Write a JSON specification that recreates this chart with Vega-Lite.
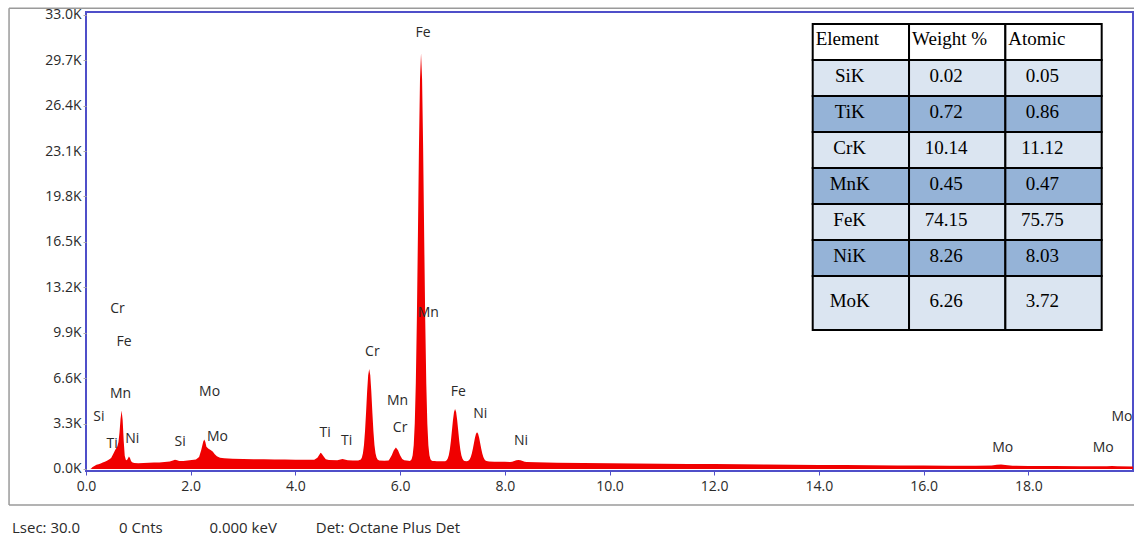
{
  "$schema": "https://vega.github.io/schema/vega-lite/v6.json",
  "width": 1047,
  "height": 459,
  "autosize": {"type": "none"},
  "padding": {"left": 86, "top": 12, "right": 1, "bottom": 67},
  "background": "white",
  "config": {"view": {"stroke": "#4f4fc9", "strokeWidth": 2}, "font": "Open Sans"},
  "title": {
    "text": "Lsec: 30.0\u00a0\u00a0\u00a0\u00a0\u00a0\u00a0\u00a0\u00a0\u00a0\u00a00 Cnts\u00a0\u00a0\u00a0\u00a0\u00a0\u00a0\u00a0\u00a0\u00a0\u00a0\u00a0\u00a00.000 keV\u00a0\u00a0\u00a0\u00a0\u00a0\u00a0\u00a0\u00a0\u00a0\u00a0Det: Octane Plus Det",
    "orient": "bottom", "anchor": "start", "frame": "group", "dx": -74, "offset": 15,
    "fontSize": 15, "fontWeight": "normal", "font": "Open Sans", "color": "#2a2a2a"
  },
  "datasets": {
    "spectrum": [
      {"E":0.08,"c":0},{"E":0.10,"c":40},{"E":0.12,"c":120},{"E":0.16,"c":220},{"E":0.20,"c":300},{"E":0.24,"c":340},{"E":0.28,"c":400},{"E":0.32,"c":470},{"E":0.36,"c":520},{"E":0.40,"c":590},{"E":0.44,"c":680},{"E":0.48,"c":800},{"E":0.52,"c":1080},{"E":0.56,"c":1400},{"E":0.60,"c":1650},{"E":0.62,"c":1950},{"E":0.64,"c":2650},{"E":0.66,"c":3650},{"E":0.68,"c":4240},{"E":0.70,"c":3550},{"E":0.72,"c":2050},{"E":0.74,"c":950},{"E":0.76,"c":660},{"E":0.78,"c":640},{"E":0.80,"c":760},{"E":0.82,"c":900},{"E":0.84,"c":800},{"E":0.86,"c":580},{"E":0.88,"c":480},{"E":0.92,"c":440},{"E":1.00,"c":420},{"E":1.10,"c":430},{"E":1.20,"c":450},{"E":1.30,"c":460},{"E":1.40,"c":470},{"E":1.50,"c":500},{"E":1.60,"c":540},{"E":1.66,"c":610},{"E":1.70,"c":660},{"E":1.74,"c":640},{"E":1.78,"c":580},{"E":1.86,"c":580},{"E":1.94,"c":610},{"E":2.02,"c":650},{"E":2.10,"c":690},{"E":2.16,"c":860},{"E":2.20,"c":1360},{"E":2.24,"c":2000},{"E":2.26,"c":2140},{"E":2.28,"c":1960},{"E":2.30,"c":1610},{"E":2.34,"c":1460},{"E":2.38,"c":1380},{"E":2.42,"c":1260},{"E":2.46,"c":1060},{"E":2.50,"c":920},{"E":2.56,"c":820},{"E":2.64,"c":770},{"E":2.80,"c":740},{"E":3.00,"c":720},{"E":3.20,"c":700},{"E":3.40,"c":710},{"E":3.60,"c":690},{"E":3.80,"c":680},{"E":4.00,"c":670},{"E":4.20,"c":660},{"E":4.36,"c":660},{"E":4.42,"c":810},{"E":4.46,"c":1050},{"E":4.48,"c":1180},{"E":4.50,"c":1130},{"E":4.54,"c":900},{"E":4.58,"c":710},{"E":4.64,"c":650},{"E":4.80,"c":640},{"E":4.86,"c":690},{"E":4.90,"c":730},{"E":4.94,"c":680},{"E":5.00,"c":630},{"E":5.10,"c":620},{"E":5.20,"c":620},{"E":5.25,"c":690},{"E":5.27,"c":825},{"E":5.29,"c":1140},{"E":5.31,"c":1740},{"E":5.33,"c":2750},{"E":5.35,"c":4120},{"E":5.37,"c":5620},{"E":5.39,"c":6810},{"E":5.41,"c":7270},{"E":5.43,"c":6810},{"E":5.45,"c":5620},{"E":5.47,"c":4120},{"E":5.49,"c":2750},{"E":5.51,"c":1740},{"E":5.53,"c":1140},{"E":5.55,"c":825},{"E":5.57,"c":690},{"E":5.60,"c":620},{"E":5.70,"c":600},{"E":5.78,"c":620},{"E":5.80,"c":730},{"E":5.84,"c":990},{"E":5.88,"c":1360},{"E":5.92,"c":1550},{"E":5.96,"c":1360},{"E":6.00,"c":990},{"E":6.04,"c":730},{"E":6.08,"c":630},{"E":6.12,"c":610},{"E":6.16,"c":600},{"E":6.18,"c":580},{"E":6.20,"c":610},{"E":6.22,"c":710},{"E":6.24,"c":1000},{"E":6.26,"c":1730},{"E":6.28,"c":3310},{"E":6.30,"c":6230},{"E":6.32,"c":10850},{"E":6.34,"c":16900},{"E":6.36,"c":23330},{"E":6.38,"c":28300},{"E":6.40,"c":30200},{"E":6.42,"c":28300},{"E":6.44,"c":23330},{"E":6.46,"c":16900},{"E":6.48,"c":10850},{"E":6.50,"c":6230},{"E":6.52,"c":3310},{"E":6.54,"c":1730},{"E":6.56,"c":1000},{"E":6.58,"c":710},{"E":6.60,"c":610},{"E":6.62,"c":580},{"E":6.66,"c":570},{"E":6.70,"c":560},{"E":6.80,"c":550},{"E":6.86,"c":560},{"E":6.87,"c":580},{"E":6.89,"c":634},{"E":6.91,"c":756},{"E":6.93,"c":1001},{"E":6.95,"c":1413},{"E":6.97,"c":2025},{"E":6.99,"c":2790},{"E":7.01,"c":3560},{"E":7.03,"c":4140},{"E":7.05,"c":4360},{"E":7.07,"c":4140},{"E":7.09,"c":3560},{"E":7.11,"c":2790},{"E":7.13,"c":2025},{"E":7.15,"c":1413},{"E":7.17,"c":1001},{"E":7.19,"c":756},{"E":7.21,"c":634},{"E":7.23,"c":580},{"E":7.27,"c":550},{"E":7.29,"c":572},{"E":7.31,"c":617},{"E":7.33,"c":706},{"E":7.35,"c":868},{"E":7.37,"c":1119},{"E":7.39,"c":1467},{"E":7.41,"c":1873},{"E":7.43,"c":2270},{"E":7.45,"c":2561},{"E":7.47,"c":2670},{"E":7.49,"c":2561},{"E":7.51,"c":2270},{"E":7.53,"c":1873},{"E":7.55,"c":1467},{"E":7.57,"c":1119},{"E":7.59,"c":868},{"E":7.61,"c":706},{"E":7.63,"c":617},{"E":7.65,"c":572},{"E":7.70,"c":540},{"E":7.80,"c":530},{"E":7.90,"c":520},{"E":8.00,"c":515},{"E":8.10,"c":510},{"E":8.14,"c":530},{"E":8.18,"c":580},{"E":8.22,"c":630},{"E":8.26,"c":650},{"E":8.30,"c":630},{"E":8.34,"c":580},{"E":8.38,"c":530},{"E":8.42,"c":500},{"E":8.60,"c":480},{"E":8.80,"c":460},{"E":9.00,"c":450},{"E":9.50,"c":430},{"E":10.0,"c":410},{"E":10.5,"c":395},{"E":11.0,"c":380},{"E":11.5,"c":365},{"E":12.0,"c":350},{"E":12.5,"c":335},{"E":13.0,"c":320},{"E":13.5,"c":305},{"E":14.0,"c":290},{"E":14.5,"c":280},{"E":15.0,"c":265},{"E":15.5,"c":255},{"E":16.0,"c":245},{"E":16.5,"c":235},{"E":17.0,"c":230},{"E":17.3,"c":250},{"E":17.4,"c":300},{"E":17.48,"c":330},{"E":17.56,"c":290},{"E":17.7,"c":240},{"E":18.0,"c":220},{"E":18.5,"c":210},{"E":19.0,"c":200},{"E":19.5,"c":190},{"E":19.6,"c":205},{"E":19.7,"c":190},{"E":20.0,"c":180}
    ],
    "labels": [
      {"el":"Cr","E":0.60,"c":11600},{"el":"Fe","E":0.726,"c":9250},{"el":"Mn","E":0.66,"c":5450},{"el":"Si","E":0.248,"c":3760},{"el":"Ti","E":0.50,"c":1820},{"el":"Ni","E":0.885,"c":2180},{"el":"Si","E":1.80,"c":1980},{"el":"Mo","E":2.36,"c":5620},{"el":"Mo","E":2.51,"c":2350},{"el":"Ti","E":4.57,"c":2590},{"el":"Ti","E":4.98,"c":2060},{"el":"Cr","E":5.47,"c":8520},{"el":"Fe","E":6.44,"c":31650},{"el":"Mn","E":6.54,"c":11360},{"el":"Mn","E":5.95,"c":4940},{"el":"Cr","E":6.00,"c":2960},{"el":"Fe","E":7.11,"c":5620},{"el":"Ni","E":7.53,"c":4000},{"el":"Ni","E":8.31,"c":2060},{"el":"Mo","E":17.51,"c":1550},{"el":"Mo","E":19.43,"c":1500},{"el":"Mo","E":19.79,"c":3800}
    ],
    "table": [
      {"r":0,"r2":1,"c":0,"c2":1,"t":"Element","band":"header"},{"r":0,"r2":1,"c":1,"c2":2,"t":"Weight %","band":"header"},{"r":0,"r2":1,"c":2,"c2":3,"t":"Atomic","band":"header"},
      {"r":1,"r2":2,"c":0,"c2":1,"t":"SiK","band":"light"},{"r":1,"r2":2,"c":1,"c2":2,"t":"0.02","band":"light"},{"r":1,"r2":2,"c":2,"c2":3,"t":"0.05","band":"light"},
      {"r":2,"r2":3,"c":0,"c2":1,"t":"TiK","band":"dark"},{"r":2,"r2":3,"c":1,"c2":2,"t":"0.72","band":"dark"},{"r":2,"r2":3,"c":2,"c2":3,"t":"0.86","band":"dark"},
      {"r":3,"r2":4,"c":0,"c2":1,"t":"CrK","band":"light"},{"r":3,"r2":4,"c":1,"c2":2,"t":"10.14","band":"light"},{"r":3,"r2":4,"c":2,"c2":3,"t":"11.12","band":"light"},
      {"r":4,"r2":5,"c":0,"c2":1,"t":"MnK","band":"dark"},{"r":4,"r2":5,"c":1,"c2":2,"t":"0.45","band":"dark"},{"r":4,"r2":5,"c":2,"c2":3,"t":"0.47","band":"dark"},
      {"r":5,"r2":6,"c":0,"c2":1,"t":"FeK","band":"light"},{"r":5,"r2":6,"c":1,"c2":2,"t":"74.15","band":"light"},{"r":5,"r2":6,"c":2,"c2":3,"t":"75.75","band":"light"},
      {"r":6,"r2":7,"c":0,"c2":1,"t":"NiK","band":"dark"},{"r":6,"r2":7,"c":1,"c2":2,"t":"8.26","band":"dark"},{"r":6,"r2":7,"c":2,"c2":3,"t":"8.03","band":"dark"},
      {"r":7,"r2":8.5,"c":0,"c2":1,"t":"MoK","band":"light"},{"r":7,"r2":8.5,"c":1,"c2":2,"t":"6.26","band":"light"},{"r":7,"r2":8.5,"c":2,"c2":3,"t":"3.72","band":"light"}
    ]
  },
  "layer": [
    {
      "layer": [
        {
          "data": {"name": "spectrum"},
          "mark": {"type": "area", "color": "#f00000", "clip": true, "interpolate": "linear"},
          "encoding": {
            "x": {"field": "E", "type": "quantitative",
              "scale": {"domain": [0, 20], "nice": false, "zero": false},
              "axis": {"values": [0,2,4,6,8,10,12,14,16,18], "format": ".1f", "title": null, "grid": false, "domain": false, "labelFlush": false,
                "tickColor": "#4f4fc9", "tickSize": 4, "labelPadding": 4, "labelFontSize": 14, "labelColor": "#2a2a2a", "labelFont": "Open Sans"}},
            "y": {"field": "c", "type": "quantitative",
              "scale": {"domain": [-150, 33200], "nice": false, "zero": false},
              "axis": {"values": [0,3300,6600,9900,13200,16500,19800,23100,26400,29700,33000], "labelFlush": false,
                "labelExpr": "format(datum.value/1000,'.1f')+'K'", "title": null, "grid": false, "domain": false,
                "tickColor": "#aaaaaa", "tickSize": 3, "labelPadding": 2, "labelFontSize": 14, "labelColor": "#2a2a2a", "labelFont": "Open Sans"}}
          }
        },
        {
          "data": {"name": "labels"},
          "mark": {"type": "text", "fontSize": 14, "font": "Open Sans", "color": "#2a2a2a", "clip": true, "baseline": "middle", "align": "center"},
          "encoding": {
            "x": {"field": "E", "type": "quantitative"},
            "y": {"field": "c", "type": "quantitative"},
            "text": {"field": "el"}
          }
        },
        {
          "data": {"values": [{}]},
          "mark": {"type": "rule", "color": "#9a9a9a", "strokeWidth": 1.5},
          "encoding": {"x": {"datum": -1.47, "type": "quantitative"}, "y": {"datum": -2616, "type": "quantitative"}, "y2": {"datum": 33470}}
        },
        {
          "data": {"values": [{}]},
          "mark": {"type": "rule", "color": "#9a9a9a", "strokeWidth": 1.5},
          "encoding": {"x": {"datum": -1.47, "type": "quantitative"}, "x2": {"datum": 21}, "y": {"datum": 33470, "type": "quantitative"}}
        },
        {
          "data": {"values": [{}]},
          "mark": {"type": "rule", "color": "#9a9a9a", "strokeWidth": 1.5},
          "encoding": {"x": {"datum": -1.47, "type": "quantitative"}, "x2": {"datum": 21}, "y": {"datum": -2616, "type": "quantitative"}}
        }
      ]
    },
    {
      "data": {"name": "table"},
      "layer": [
        {
          "mark": {"type": "rect", "stroke": "#000000", "strokeWidth": 2},
          "encoding": {
            "x": {"field": "c", "type": "quantitative", "scale": {"domain": [-7.544, 3.325], "nice": false, "zero": false}, "axis": null},
            "x2": {"field": "c2"},
            "y": {"field": "r", "type": "quantitative", "scale": {"domain": [-0.333, 12.417], "reverse": true, "nice": false, "zero": false}, "axis": null},
            "y2": {"field": "r2"},
            "fill": {"field": "band", "type": "nominal", "scale": {"domain": ["header", "light", "dark"], "range": ["#ffffff", "#dbe5f1", "#95b3d7"]}, "legend": null}
          }
        },
        {
          "transform": [{"filter": "datum.r == 0"}, {"calculate": "(datum.r + datum.r2) / 2", "as": "ym"}],
          "mark": {"type": "text", "align": "left", "baseline": "middle", "dx": 3, "dy": -3, "font": "Liberation Serif", "fontSize": 19, "color": "#000000"},
          "encoding": {"x": {"field": "c", "type": "quantitative"}, "y": {"field": "ym", "type": "quantitative"}, "text": {"field": "t"}}
        },
        {
          "transform": [{"filter": "datum.r > 0"}, {"calculate": "(datum.r + datum.r2) / 2", "as": "ym"}],
          "mark": {"type": "text", "align": "center", "baseline": "middle", "dx": 37, "dy": -2, "font": "Liberation Serif", "fontSize": 19, "color": "#000000"},
          "encoding": {"x": {"field": "c", "type": "quantitative"}, "y": {"field": "ym", "type": "quantitative"}, "text": {"field": "t"}}
        }
      ]
    }
  ],
  "resolve": {"scale": {"x": "independent", "y": "independent"}, "axis": {"x": "independent", "y": "independent"}}
}
